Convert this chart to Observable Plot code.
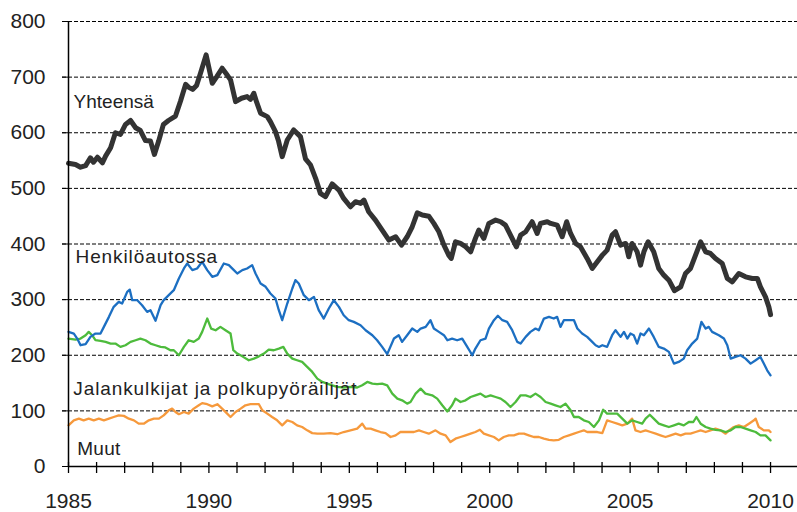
<!DOCTYPE html>
<html><head><meta charset="utf-8">
<script src="https://cdn.jsdelivr.net/npm/d3@7"></script>
<script src="https://cdn.jsdelivr.net/npm/@observablehq/plot@0.6"></script>
<style>
html,body{margin:0;padding:0;background:#fff;}
#chart{width:797px;height:512px;overflow:hidden;}
</style></head><body><div id="chart"></div>
<script>
// Rolling 12-month sums, [decimal year, value]
const yhteensa = [[1985.00,545],[1985.25,543],[1985.43,538],[1985.61,541],[1985.78,555],[1985.89,547],[1986.03,556],[1986.21,546],[1986.32,558],[1986.50,573],
[1986.67,600],[1986.85,597],[1987.03,615],[1987.21,622],[1987.39,609],[1987.56,604],[1987.74,586],[1987.92,585],[1988.06,561],[1988.21,585],
[1988.38,615],[1988.56,622],[1988.81,630],[1988.99,657],[1989.17,687],[1989.27,682],[1989.42,678],[1989.56,685],[1989.70,707],[1989.90,740],
[1990.12,689],[1990.27,700],[1990.47,716],[1990.63,705],[1990.77,695],[1990.95,656],[1991.16,662],[1991.36,665],[1991.48,660],[1991.60,671],
[1991.70,655],[1991.84,635],[1992.08,629],[1992.19,620],[1992.37,602],[1992.48,585],[1992.61,557],[1992.79,587],[1993.02,605],[1993.26,593],
[1993.44,553],[1993.62,542],[1993.80,518],[1993.97,491],[1994.15,485],[1994.39,508],[1994.63,497],[1994.80,482],[1995.04,467],[1995.22,476],
[1995.40,473],[1995.52,479],[1995.69,458],[1995.93,443],[1996.17,425],[1996.41,407],[1996.65,413],[1996.86,398],[1997.06,413],[1997.24,431],
[1997.42,456],[1997.60,452],[1997.83,450],[1998.01,437],[1998.19,422],[1998.37,398],[1998.54,380],[1998.63,374],[1998.78,404],[1998.96,401],
[1999.14,395],[1999.32,386],[1999.49,410],[1999.61,425],[1999.79,410],[1999.97,437],[2000.21,443],[2000.39,440],[2000.56,434],[2000.74,416],
[2000.95,395],[2001.10,416],[2001.28,422],[2001.51,440],[2001.69,419],[2001.81,437],[2002.05,440],[2002.17,437],[2002.40,434],[2002.58,413],
[2002.74,440],[2002.88,419],[2003.06,401],[2003.23,395],[2003.47,374],[2003.65,356],[2003.83,368],[2004.01,380],[2004.18,389],[2004.36,416],
[2004.48,422],[2004.66,398],[2004.84,401],[2004.95,377],[2005.07,401],[2005.25,386],[2005.37,362],[2005.49,386],[2005.64,404],[2005.84,386],
[2006.02,356],[2006.20,344],[2006.38,335],[2006.58,316],[2006.80,323],[2006.97,347],[2007.15,356],[2007.33,380],[2007.51,404],[2007.69,386],
[2007.86,383],[2008.04,374],[2008.28,365],[2008.46,338],[2008.64,332],[2008.87,347],[2009.11,341],[2009.35,338],[2009.53,338],[2009.64,323],
[2009.82,305],[2009.94,287],[2010.00,273]];

const henkiloautossa = [[1985.00,242],[1985.19,239],[1985.31,230],[1985.43,218],[1985.61,220],[1985.78,233],[1985.96,239],[1986.14,239],[1986.26,251],[1986.44,269],
[1986.61,287],[1986.79,296],[1986.91,293],[1987.09,314],[1987.18,318],[1987.27,299],[1987.45,299],[1987.62,290],[1987.80,278],[1987.92,281],
[1988.10,262],[1988.28,290],[1988.39,299],[1988.57,308],[1988.75,317],[1988.93,338],[1989.11,356],[1989.23,365],[1989.41,353],[1989.58,356],
[1989.76,368],[1989.94,353],[1990.12,341],[1990.30,344],[1990.53,365],[1990.71,362],[1990.89,353],[1991.01,347],[1991.19,353],[1991.36,356],
[1991.54,362],[1991.66,347],[1991.84,329],[1992.02,323],[1992.19,311],[1992.37,302],[1992.49,281],[1992.61,263],[1992.79,293],[1992.97,320],
[1993.08,335],[1993.20,329],[1993.38,308],[1993.56,299],[1993.74,305],[1993.91,281],[1994.09,266],[1994.27,284],[1994.45,299],[1994.63,287],
[1994.80,272],[1994.98,263],[1995.16,260],[1995.40,254],[1995.58,245],[1995.82,236],[1995.99,227],[1996.17,215],[1996.35,202],[1996.59,230],
[1996.76,236],[1996.88,224],[1997.06,236],[1997.24,248],[1997.42,242],[1997.54,248],[1997.72,251],[1997.89,263],[1998.01,248],[1998.19,242],
[1998.37,236],[1998.49,227],[1998.66,230],[1998.84,227],[1999.02,230],[1999.20,215],[1999.38,200],[1999.49,212],[1999.67,227],[1999.85,230],
[1999.97,248],[2000.15,263],[2000.29,271],[2000.45,263],[2000.62,260],[2000.80,245],[2000.98,224],[2001.10,221],[2001.28,233],[2001.45,242],
[2001.63,248],[2001.75,245],[2001.93,266],[2002.11,269],[2002.28,266],[2002.40,269],[2002.52,251],[2002.64,263],[2002.82,263],[2003.00,263],
[2003.12,248],[2003.29,239],[2003.47,233],[2003.65,224],[2003.77,218],[2003.89,215],[2004.01,218],[2004.18,215],[2004.36,236],[2004.48,245],
[2004.66,233],[2004.78,242],[2004.90,230],[2005.01,239],[2005.13,236],[2005.25,221],[2005.37,239],[2005.49,236],[2005.67,248],[2005.84,233],
[2006.02,215],[2006.20,212],[2006.38,206],[2006.56,185],[2006.73,188],[2006.91,194],[2007.03,209],[2007.21,221],[2007.39,230],[2007.54,260],
[2007.69,248],[2007.80,251],[2007.92,242],[2008.16,236],[2008.34,230],[2008.46,218],[2008.58,194],[2008.75,197],[2008.93,200],[2009.11,194],
[2009.29,185],[2009.47,191],[2009.64,197],[2009.76,185],[2009.88,173],[2010.00,164]];

const jalankulkijat = [[1985.00,230],[1985.25,228],[1985.43,230],[1985.61,236],[1985.72,242],[1985.84,236],[1985.96,227],[1986.14,226],[1986.32,224],[1986.50,221],
[1986.67,221],[1986.85,215],[1987.03,218],[1987.21,224],[1987.39,227],[1987.56,230],[1987.74,227],[1987.92,221],[1988.10,218],[1988.28,215],
[1988.45,214],[1988.63,209],[1988.75,209],[1988.93,200],[1989.11,215],[1989.28,227],[1989.46,224],[1989.64,230],[1989.76,242],[1989.94,266],
[1990.08,248],[1990.24,245],[1990.41,251],[1990.59,245],[1990.77,239],[1990.87,209],[1991.01,203],[1991.19,198],[1991.42,191],[1991.60,194],
[1991.78,198],[1991.96,203],[1992.13,210],[1992.31,209],[1992.49,212],[1992.65,215],[1992.79,203],[1992.97,194],[1993.14,191],[1993.32,188],
[1993.50,179],[1993.68,170],[1993.86,158],[1994.04,152],[1994.21,149],[1994.39,146],[1994.57,143],[1994.80,142],[1995.04,143],[1995.28,142],
[1995.46,146],[1995.64,152],[1995.82,149],[1995.99,148],[1996.17,149],[1996.35,146],[1996.53,131],[1996.71,122],[1996.88,119],[1997.06,113],
[1997.18,116],[1997.36,131],[1997.54,140],[1997.71,131],[1997.95,128],[1998.13,122],[1998.31,110],[1998.49,99],[1998.66,110],[1998.78,122],
[1998.96,116],[1999.14,119],[1999.32,125],[1999.49,128],[1999.67,131],[1999.85,125],[2000.03,128],[2000.21,125],[2000.39,122],[2000.56,116],
[2000.74,107],[2000.92,116],[2001.10,128],[2001.28,128],[2001.45,125],[2001.63,131],[2001.81,125],[2001.99,116],[2002.17,113],[2002.34,110],
[2002.52,107],[2002.70,113],[2002.88,101],[2003.00,89],[2003.17,89],[2003.35,83],[2003.53,80],[2003.71,71],[2003.89,83],[2004.04,102],
[2004.18,95],[2004.36,95],[2004.54,95],[2004.72,86],[2004.90,77],[2005.07,83],[2005.25,80],[2005.43,77],[2005.55,86],[2005.70,93],
[2005.84,86],[2006.02,77],[2006.20,74],[2006.38,71],[2006.56,74],[2006.73,77],[2006.91,74],[2007.09,80],[2007.25,80],[2007.36,89],
[2007.51,77],[2007.69,71],[2007.86,68],[2008.04,66],[2008.22,65],[2008.40,62],[2008.58,65],[2008.75,71],[2008.93,71],[2009.11,68],
[2009.29,65],[2009.47,62],[2009.64,56],[2009.82,56],[2010.00,47]];

const muut = [[1985.00,74],[1985.19,83],[1985.37,86],[1985.54,83],[1985.72,86],[1985.90,83],[1986.08,86],[1986.26,83],[1986.44,86],[1986.61,89],
[1986.79,92],[1986.97,91],[1987.15,86],[1987.33,83],[1987.50,77],[1987.68,77],[1987.86,83],[1988.04,86],[1988.22,86],[1988.39,92],
[1988.57,101],[1988.69,104],[1988.81,98],[1988.93,94],[1989.11,98],[1989.28,95],[1989.46,104],[1989.64,110],[1989.76,114],[1989.94,112],
[1990.12,108],[1990.30,112],[1990.47,104],[1990.65,95],[1990.77,89],[1990.95,98],[1991.13,104],[1991.30,110],[1991.48,112],[1991.66,112],
[1991.78,112],[1991.90,101],[1992.08,95],[1992.25,89],[1992.43,83],[1992.61,74],[1992.79,83],[1992.97,80],[1993.14,74],[1993.32,71],
[1993.50,65],[1993.68,60],[1993.86,59],[1994.09,59],[1994.33,60],[1994.57,58],[1994.80,62],[1995.04,65],[1995.28,68],[1995.46,77],
[1995.58,68],[1995.76,68],[1995.93,65],[1996.11,62],[1996.29,60],[1996.47,53],[1996.65,56],[1996.82,62],[1997.06,62],[1997.30,62],
[1997.48,65],[1997.65,62],[1997.83,59],[1998.07,65],[1998.25,59],[1998.43,56],[1998.60,44],[1998.78,50],[1998.96,53],[1999.14,56],
[1999.32,59],[1999.49,62],[1999.65,66],[1999.79,59],[1999.97,56],[2000.15,53],[2000.32,47],[2000.50,53],[2000.68,56],[2000.86,56],
[2001.04,59],[2001.22,59],[2001.39,56],[2001.57,53],[2001.75,53],[2001.93,50],[2002.11,48],[2002.28,47],[2002.46,48],[2002.64,53],
[2002.82,56],[2003.00,59],[2003.17,62],[2003.35,65],[2003.47,62],[2003.65,62],[2003.83,62],[2004.01,60],[2004.18,83],[2004.36,80],
[2004.54,77],[2004.72,74],[2004.90,77],[2005.07,86],[2005.19,65],[2005.37,62],[2005.55,65],[2005.73,62],[2005.91,59],[2006.08,56],
[2006.26,53],[2006.44,56],[2006.62,59],[2006.80,56],[2006.97,59],[2007.15,59],[2007.33,62],[2007.51,65],[2007.69,62],[2007.86,65],
[2008.04,68],[2008.22,65],[2008.40,59],[2008.52,65],[2008.69,71],[2008.87,74],[2009.05,71],[2009.23,77],[2009.41,83],[2009.47,86],
[2009.58,71],[2009.76,65],[2009.94,65],[2010.00,62]];

const yTicks = [0, 100, 200, 300, 400, 500, 600, 700, 800];
const gridValues = [100, 200, 300, 400, 500, 600, 700, 800];
const xLabelYears = [1985, 1990, 1995, 2000, 2005, 2010];
const xTickYears = d3.range(1985, 2011);

const seriesNames = ["Yhteensä", "Henkilöautossa", "Jalankulkijat ja polkupyöräilijät", "Muut"];
const seriesColors = ["#333333", "#1c6fc2", "#4dbb3c", "#f6993c"];
const seriesWidths = [5, 2.3, 2.3, 2.3];
const seriesPoints = [yhteensa, henkiloautossa, jalankulkijat, muut];

// label anchor positions (year, value) and extra letter spacing
const labelYears = [1985.18, 1985.25, 1985.17, 1985.31];
const labelValues = [656, 376, 139, 31];
const labelSpacing = [0, 0.9, 0.9, 0.3];

const labels = seriesNames.map((name, i) => ({text: name, year: labelYears[i], value: labelValues[i]}));
const toRows = i => seriesPoints[i].map(([year, value]) => ({year, value}));

const drawOrder = [3, 2, 1, 0];

const plot = Plot.plot({
  width: 797, height: 512,
  marginLeft: 68, marginRight: 0, marginTop: 21, marginBottom: 46,
  x: {domain: [1985, 2010.96]},
  y: {domain: [0, 800]},
  style: {fontFamily: "'Liberation Sans', Arial, sans-serif", fontSize: "21px", color: "#222", background: "#fff", overflow: "visible"},
  marks: [
    Plot.ruleY(gridValues, {y: d => d, stroke: "#000", strokeWidth: 1, strokeDasharray: "4,2", insetLeft: -6}),
    Plot.axisY({ticks: yTicks, tickSize: 6, tickPadding: 17, tickFormat: d => String(d), label: null, fontSize: 21, stroke: "#000", fill: "#222"}),
    Plot.axisX({ticks: xLabelYears, tickSize: 0, tickPadding: 27, tickFormat: d => String(d), label: null, fontSize: 21, fill: "#222"}),
    Plot.ruleX(xTickYears, {x: d => d, y1: 0, y2: 0, insetTop: -4, insetBottom: -7, stroke: "#000", strokeWidth: 1.3}),
    ...drawOrder.map(i => Plot.line(toRows(i), {x: "year", y: "value", stroke: seriesColors[i], strokeWidth: seriesWidths[i], strokeLinejoin: "round", strokeLinecap: "round"})),
    Plot.ruleY([0], {stroke: "#000", strokeWidth: 1.5}),
    Plot.ruleX([1985], {stroke: "#000", strokeWidth: 1.5}),
    Plot.text(labels, {x: "year", y: "value", text: "text", textAnchor: "start", lineAnchor: "middle", fontSize: 19, fill: "#222"})
  ]
});

d3.select(plot).selectAll("text").each(function() {
  const i = seriesNames.indexOf(this.textContent);
  if (i >= 0 && labelSpacing[i]) this.setAttribute("letter-spacing", labelSpacing[i] + "px");
});

document.getElementById("chart").appendChild(plot);
</script>
</body></html>
